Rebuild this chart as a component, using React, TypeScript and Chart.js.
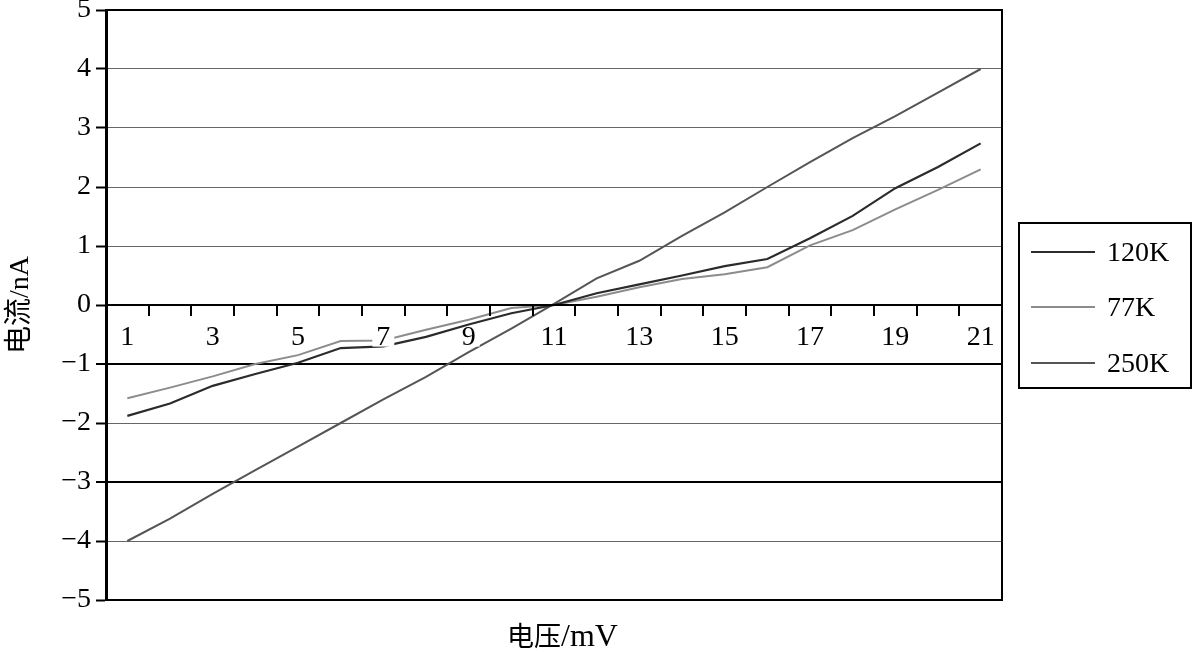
import React, { useEffect, useRef } from 'react';
import { Chart, registerables } from 'chart.js';

Chart.register(...registerables);

const categories = ['1','2','3','4','5','6','7','8','9','10','11','12','13','14','15','16','17','18','19','20','21'];
const current120K = [-1.88,-1.67,-1.37,-1.17,-0.98,-0.73,-0.70,-0.54,-0.33,-0.14,0.0,0.20,0.35,0.50,0.66,0.78,1.13,1.51,1.98,2.34,2.74];
const current77K = [-1.58,-1.40,-1.21,-1.00,-0.85,-0.61,-0.60,-0.42,-0.25,-0.05,0.0,0.14,0.30,0.44,0.52,0.64,1.01,1.27,1.62,1.95,2.30];
const current250K = [-4.0,-3.62,-3.2,-2.8,-2.4,-2.0,-1.6,-1.22,-0.8,-0.4,0.02,0.45,0.75,1.17,1.57,2.0,2.42,2.83,3.2,3.6,4.0];
const seriesNames = ['120K', '77K', '250K'];
const seriesColors = ['#2b2b2b', '#8c8c8c', '#555555'];
const seriesWidths = [2.2, 2, 2];
const xTitleCJK = '电压';
const xTitleLatin = '/mV';
const yTitle = '电流/nA';
const yMin = -5;
const yMax = 5;

const FONT = "'Liberation Serif', 'Noto Sans CJK SC', serif";
const CJK = "'Noto Sans CJK SC', serif";

const overlay = {
  id: 'overlay',
  afterDraw(chart: any) {
    const { ctx, chartArea: a } = chart;
    ctx.save();
    // plot frame
    ctx.strokeStyle = '#000';
    ctx.lineWidth = 2;
    ctx.beginPath();
    ctx.moveTo(a.left, a.top);
    ctx.lineTo(a.right, a.top);
    ctx.lineTo(a.right, a.bottom);
    ctx.lineTo(a.left, a.bottom);
    ctx.stroke();

    // legend
    const lx = a.right + 16;
    const ly = 222;
    const lw = 174;
    const lh = 167;
    ctx.lineWidth = 2;
    ctx.strokeRect(lx + 1, ly + 1, lw - 2, lh - 2);
    const rowYs = [252, 307, 363];
    chart.data.datasets.forEach((ds: any, i: number) => {
      const y = rowYs[i];
      ctx.strokeStyle = ds.borderColor;
      ctx.lineWidth = ds.borderWidth;
      ctx.beginPath();
      ctx.moveTo(lx + 13, y);
      ctx.lineTo(lx + 77, y);
      ctx.stroke();
      ctx.fillStyle = '#000';
      ctx.font = `28px ${FONT}`;
      ctx.textAlign = 'left';
      ctx.textBaseline = 'middle';
      ctx.fillText(ds.label, lx + 89, y + 2);
    });

    // x axis title (CJK part + latin part)
    ctx.fillStyle = '#000';
    ctx.textBaseline = 'alphabetic';
    ctx.textAlign = 'left';
    ctx.font = `27px ${CJK}`;
    const w1 = ctx.measureText(xTitleCJK).width;
    ctx.font = `32px ${FONT}`;
    const w2 = ctx.measureText(xTitleLatin).width;
    const startX = 497 + (131 - (w1 + w2)) / 2;
    ctx.font = `27px ${CJK}`;
    ctx.fillText(xTitleCJK, startX, 646);
    ctx.font = `32px ${FONT}`;
    ctx.fillText(xTitleLatin, startX + w1, 646);

    // y axis title
    ctx.font = `28px ${FONT}`;
    ctx.textAlign = 'center';
    ctx.textBaseline = 'middle';
    ctx.save();
    ctx.translate(21, (a.top + a.bottom) / 2);
    ctx.rotate(-Math.PI / 2);
    ctx.fillText(yTitle, 0, 0);
    ctx.restore();
    ctx.restore();
  },
};

export default function App() {
  const ref = useRef<HTMLCanvasElement>(null);
  useEffect(() => {
    const values = [current120K, current77K, current250K];
    const chart = new Chart(ref.current!, {
      type: 'line',
      data: {
        labels: categories,
        datasets: values.map((v, i) => ({
          label: seriesNames[i],
          data: v,
          borderColor: seriesColors[i],
          backgroundColor: seriesColors[i],
          borderWidth: seriesWidths[i],
          pointRadius: 0,
          tension: 0,
          fill: false,
        })),
      },
      options: {
        responsive: false,
        animation: false,
        events: [],
        layout: { padding: { left: 0, top: 10, right: 191, bottom: 52 } },
        plugins: { legend: { display: false }, tooltip: { enabled: false } },
        scales: {
          x: {
            type: 'category',
            position: { y: 0 } as any,
            offset: true,
            z: 1,
            afterFit: (s: any) => { s.height = 0; s.paddingLeft = 0; s.paddingRight = 0; },
            grid: {
              offset: true,
              drawOnChartArea: false,
              drawTicks: true,
              tickLength: 10,
              color: '#000',
              tickColor: '#000',
              tickWidth: 2,
              lineWidth: 2,
              z: 1,
            } as any,
            border: { color: '#000', width: 2, z: 1 } as any,
            ticks: {
              z: 1,
              autoSkip: false,
              maxRotation: 0,
              minRotation: 0,
              padding: 6,
              color: '#000',
              font: { family: FONT, size: 28 },
              callback: (_v: any, i: number) => (i % 2 === 0 ? categories[i] : ''),
              showLabelBackdrop: (c: any) => c.index % 2 === 0,
              backdropColor: '#ffffff',
              backdropPadding: { top: -10, bottom: -8, left: 4, right: 4 },
            } as any,
          },
          y: {
            min: yMin,
            max: yMax,
            afterFit: (s: any) => { s.width = 106; s.paddingTop = 0; s.paddingBottom = 0; },
            grid: {
              drawTicks: true,
              tickLength: 10,
              tickColor: '#000',
              tickWidth: 2,
              color: (c: any) => {
                const v = c.tick && c.tick.value;
                return v === -1 || v === -3 ? '#000' : '#666666';
              },
              lineWidth: (c: any) => {
                const v = c.tick && c.tick.value;
                return v === -1 || v === -3 ? 2 : 1;
              },
            },
            border: { color: '#000', width: 3 },
            ticks: {
              stepSize: 1,
              padding: 5,
              color: '#000',
              font: { family: FONT, size: 28 },
              callback: (v: any) => (Number(v) < 0 ? '\u2212' + Math.abs(Number(v)) : String(v)),
            },
          },
        },
      },
      plugins: [overlay],
    });
    return () => chart.destroy();
  }, []);
  return (
    <div style={{ position: 'absolute', left: 0, top: 0, width: 1193, height: 652, background: '#fff' }}>
      <canvas ref={ref} width={1193} height={652} />
    </div>
  );
}
